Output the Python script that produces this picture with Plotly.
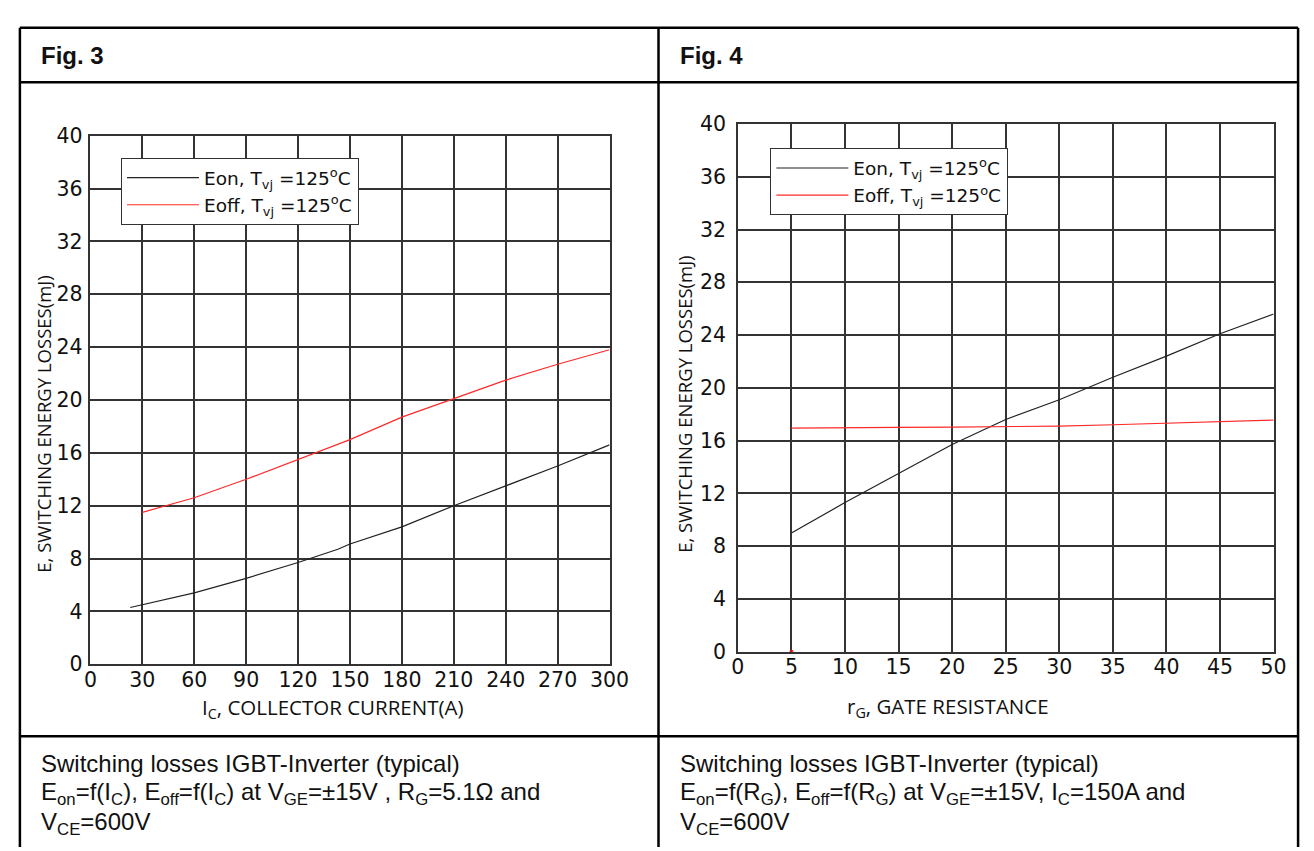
import plotly.graph_objects as go

W, H = 1314, 851

# ---------------- data ----------------
# Fig. 3 : E vs collector current
ic_on = [23, 30, 60, 90, 120, 143, 150, 180, 210, 240, 270, 300]
eon_ic = [4.3, 4.5, 5.4, 6.5, 7.7, 8.7, 9.1, 10.4, 12.0, 13.5, 15.0, 16.6]
ic_off = [30, 60, 90, 120, 143, 150, 180, 210, 240, 270, 300]
eoff_ic = [11.5, 12.6, 14.0, 15.5, 16.7, 17.0, 18.7, 20.1, 21.5, 22.7, 23.8]

# Fig. 4 : E vs gate resistance
rg_on = [5, 10, 15, 20, 25, 30, 35, 40, 45, 50]
eon_rg = [9.0, 11.3, 13.5, 15.7, 17.6, 19.1, 20.8, 22.4, 24.1, 25.6]
rg_off = [5, 10, 15, 20, 25, 30, 35, 40, 45, 50]
eoff_rg = [16.95, 17.0, 17.0, 17.02, 17.05, 17.1, 17.2, 17.3, 17.4, 17.55]

x3_ticks = [0, 30, 60, 90, 120, 150, 180, 210, 240, 270, 300]
x4_ticks = [0, 5, 10, 15, 20, 25, 30, 35, 40, 45, 50]
y_ticks = [0, 4, 8, 12, 16, 20, 24, 28, 32, 36, 40]

legend_on = "Eon, T<sub>vj</sub> =125<sup>o</sup>C"
legend_off = "Eoff, T<sub>vj</sub> =125<sup>o</sup>C"

# ---------------- helpers ----------------
def px(x):
    return x / W

def py(y):
    return 1 - y / H

fig = go.Figure()

fig.add_trace(go.Scatter(x=ic_on, y=eon_ic, mode="lines", line=dict(color="#222222", width=1.2),
                         name=legend_on, xaxis="x", yaxis="y", legend="legend"))
fig.add_trace(go.Scatter(x=ic_off, y=eoff_ic, mode="lines", line=dict(color="#ff2a2a", width=1.2),
                         name=legend_off, xaxis="x", yaxis="y", legend="legend"))
fig.add_trace(go.Scatter(x=rg_on, y=eon_rg, mode="lines", line=dict(color="#222222", width=1.2),
                         name=legend_on, xaxis="x2", yaxis="y2", legend="legend2"))
fig.add_trace(go.Scatter(x=rg_off, y=eoff_rg, mode="lines", line=dict(color="#ff2a2a", width=1.2),
                         name=legend_off, xaxis="x2", yaxis="y2", legend="legend2"))
fig.add_trace(go.Scatter(x=[rg_off[0]], y=[0], mode="markers", marker=dict(color="red", size=4),
                         showlegend=False, xaxis="x2", yaxis="y2"))

tickfont = dict(family="DejaVu Sans", size=20.5, color="#111")
axis_common = dict(showgrid=True, gridcolor="#333", gridwidth=1.5, showline=True, linecolor="#333",
                   linewidth=1.5, mirror=True, zeroline=False, ticks="", tickfont=tickfont)

legfont = dict(family="DejaVu Sans", size=18.5, color="#111")
fig.update_layout(
    width=W, height=H, margin=dict(l=0, r=0, t=0, b=0),
    paper_bgcolor="white", plot_bgcolor="white",
    xaxis=dict(domain=[px(77), px(607)], range=[0, 300], tickvals=x3_ticks, anchor="y",
               ticklabelstandoff=-4, **axis_common),
    yaxis=dict(domain=[py(663), py(119)], range=[0, 40], tickvals=y_ticks, anchor="x",
               ticklabelstandoff=2, **axis_common),
    xaxis2=dict(domain=[px(738), px(1285)], range=[0, 50], tickvals=x4_ticks, anchor="y2",
                ticklabelstandoff=-4, **axis_common),
    yaxis2=dict(domain=[py(650), py(107)], range=[0, 40], tickvals=y_ticks, anchor="x2",
                ticklabelstandoff=6, **axis_common),
    legend=dict(x=px(108), y=py(142), xanchor="left", yanchor="top", bgcolor="white",
                bordercolor="#333", borderwidth=1.2, itemwidth=72, font=legfont, tracegroupgap=0),
    legend2=dict(x=px(771), y=py(132), xanchor="left", yanchor="top", bgcolor="white",
                 bordercolor="#333", borderwidth=1.2, itemwidth=72, font=legfont, tracegroupgap=0),
    showlegend=True,
)

# ---------------- table borders ----------------
bw = 2.5
shapes = []
def hline(y, x0=5, x1=1310):
    shapes.append(dict(type="line", xref="paper", yref="paper", x0=px(x0), x1=px(x1), y0=py(y), y1=py(y),
                       line=dict(color="black", width=bw)))
def vline(x, y0=8, y1=851):
    shapes.append(dict(type="line", xref="paper", yref="paper", x0=px(x), x1=px(x), y0=py(y0), y1=py(y1),
                       line=dict(color="black", width=bw)))
hline(8)
hline(64)
hline(737)
vline(5)
vline(657)
vline(1310)
fig.update_layout(shapes=shapes)

# ---------------- text ----------------
ann = []
capfont = dict(family="Liberation Sans, Arial", size=24, color="#111")
ytitlefont = dict(family="Open Sans", size=18.5, color="#111")
xtitlefont = dict(family="Open Sans", size=20.5, color="#111")
figfont = dict(family="Liberation Sans, Arial", size=24, color="#111")
ann.append(dict(text="<b>Fig. 3</b>", x=px(24), y=py(37), xanchor="left", yanchor="middle", font=figfont))
ann.append(dict(text="<b>Fig. 4</b>", x=px(677), y=py(37), xanchor="left", yanchor="middle", font=figfont))
ann.append(dict(text="E, SWITCHING ENERGY LOSSES(mJ)", x=px(29), y=py(416), textangle=-90,
                xanchor="center", yanchor="middle", font=ytitlefont))
ann.append(dict(text="E, SWITCHING ENERGY LOSSES(mJ)", x=px(684), y=py(395), textangle=-90,
                xanchor="center", yanchor="middle", font=ytitlefont))
ann.append(dict(text="I<sub>C</sub>, COLLECTOR CURRENT(A)", x=px(325), y=py(708),
                xanchor="center", yanchor="middle", font=xtitlefont))
ann.append(dict(text="r<sub>G</sub>, GATE RESISTANCE", x=px(953), y=py(707),
                xanchor="center", yanchor="middle", font=xtitlefont))

cap3 = ["Switching losses IGBT-Inverter (typical)",
        "E<sub>on</sub>=f(I<sub>C</sub>), E<sub>off</sub>=f(I<sub>C</sub>) at V<sub>GE</sub>=\u00b115V , R<sub>G</sub>=5.1\u03a9 and",
        "V<sub>CE</sub>=600V"]
cap4 = ["Switching losses IGBT-Inverter (typical)",
        "E<sub>on</sub>=f(R<sub>G</sub>), E<sub>off</sub>=f(R<sub>G</sub>) at V<sub>GE</sub>=\u00b115V, I<sub>C</sub>=150A and",
        "V<sub>CE</sub>=600V"]
for i, (a, b) in enumerate(zip(cap3, cap4)):
    yy = [765, 796, 827][i]
    ann.append(dict(text=a, x=px(24), y=py(yy), xanchor="left", yanchor="middle", font=capfont))
    ann.append(dict(text=b, x=px(677), y=py(yy), xanchor="left", yanchor="middle", font=capfont))
for a in ann:
    a.update(xref="paper", yref="paper", showarrow=False)
fig.update_layout(annotations=ann)

fig.write_html("out.html", config={"displayModeBar": False})
